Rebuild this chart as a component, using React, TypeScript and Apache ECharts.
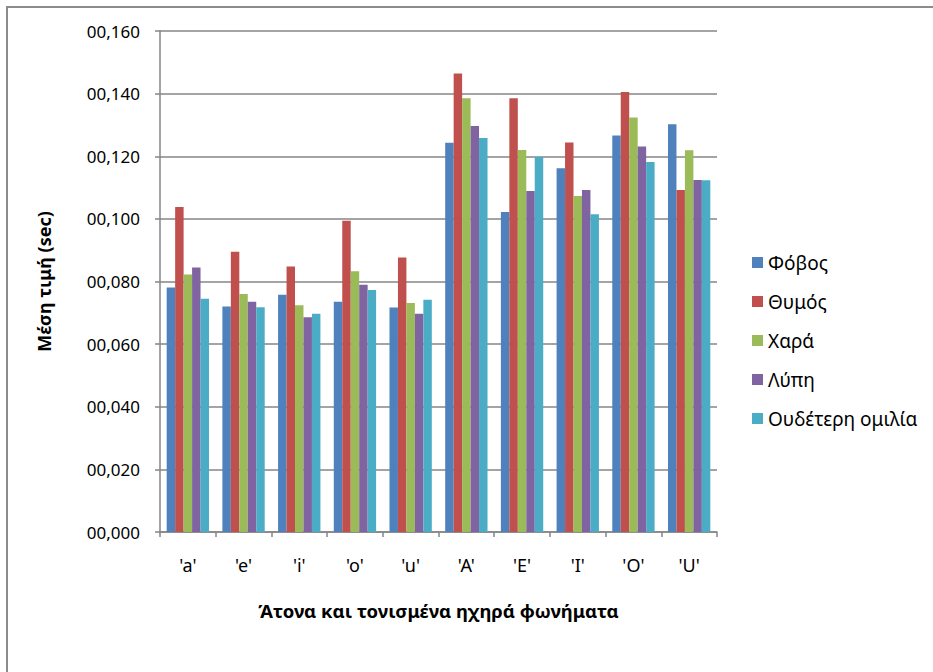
import React, { useEffect, useRef } from "react";
import * as echarts from "echarts";

const categories = ["'a'", "'e'", "'i'", "'o'", "'u'", "'A'", "'E'", "'I'", "'O'", "'U'"];
const seriesNames = ["Φόβος", "Θυμός", "Χαρά", "Λύπη", "Ουδέτερη ομιλία"];
const fovos = [0.0781, 0.0720, 0.0758, 0.0735, 0.0717, 0.1243, 0.1022, 0.1162, 0.1266, 0.1302];
const thymos = [0.1038, 0.0895, 0.0848, 0.0994, 0.0877, 0.1464, 0.1385, 0.1244, 0.1405, 0.1092];
const chara = [0.0822, 0.0760, 0.0724, 0.0833, 0.0731, 0.1385, 0.1220, 0.1073, 0.1324, 0.1219];
const lypi = [0.0845, 0.0735, 0.0686, 0.0790, 0.0697, 0.1297, 0.1089, 0.1092, 0.1231, 0.1124];
const oudeteri = [0.0745, 0.0718, 0.0697, 0.0773, 0.0742, 0.1258, 0.1198, 0.1015, 0.1182, 0.1123];
const colors = ["#4F81BD", "#C0504D", "#9BBB59", "#8064A2", "#4BACC6"];

const FONT = "'Noto Sans', 'Open Sans', sans-serif";

export default function App() {
  const ref = useRef<HTMLDivElement>(null);
  useEffect(() => {
    if (!ref.current) return;
    const chart = echarts.init(ref.current, null, { renderer: "svg" });
    const data = [fovos, thymos, chara, lypi, oudeteri];
    chart.setOption({
      animation: false,
      color: colors,
      textStyle: { fontFamily: FONT },
      graphic: [
        {
          type: "rect",
          shape: { x: 7, y: 7, width: 960, height: 720 },
          style: { fill: "none", stroke: "#8c8c8c", lineWidth: 2 },
          silent: true,
        },
      ],
      grid: { left: 160, right: 216, top: 31, bottom: 140 },
      legend: {
        orient: "vertical",
        left: 752,
        top: 253,
        padding: 0,
        itemWidth: 11,
        itemHeight: 11,
        itemGap: 20,
        icon: "rect",
        textStyle: { fontSize: 19, color: "#000", fontFamily: FONT },
        data: seriesNames,
      },
      xAxis: {
        type: "category",
        data: categories,
        name: "Άτονα και τονισμένα ηχηρά φωνήματα",
        nameLocation: "middle",
        nameGap: 69,
        nameTextStyle: { fontSize: 18.5, fontWeight: "bold", color: "#000", fontFamily: FONT },
        axisLine: { lineStyle: { color: "#868686", width: 1.5 } },
        axisTick: { show: true, length: 5, lineStyle: { color: "#868686", width: 1.5 } },
        axisLabel: { fontSize: 18, color: "#000", margin: 24, fontFamily: FONT },
      },
      yAxis: {
        type: "value",
        min: 0,
        max: 0.16,
        interval: 0.02,
        name: "Μέση τιμή (sec)",
        nameLocation: "middle",
        nameGap: 107,
        nameRotate: 90,
        nameTextStyle: { fontSize: 18, fontWeight: "bold", color: "#000", fontFamily: FONT },
        axisLine: { show: true, lineStyle: { color: "#868686", width: 1.5 } },
        axisTick: { show: true, length: 5, lineStyle: { color: "#868686", width: 1.5 } },
        splitLine: { show: true, lineStyle: { color: "#868686", width: 1.5 } },
        axisLabel: {
          fontSize: 17,
          color: "#000",
          margin: 20,
          fontFamily: FONT,
          formatter: (v: number) => "00," + String(Math.round(v * 1000)).padStart(3, "0"),
        },
      },
      series: seriesNames.map((name, i) => ({
        name,
        type: "bar",
        data: data[i],
        barGap: "0%",
        barCategoryGap: "24%",
        itemStyle: { color: colors[i] },
      })),
    });
    return () => chart.dispose();
  }, []);
  return (
    <div
      ref={ref}
      style={{ position: "fixed", left: 0, top: 0, width: 933, height: 672, background: "#fff" }}
    />
  );
}
